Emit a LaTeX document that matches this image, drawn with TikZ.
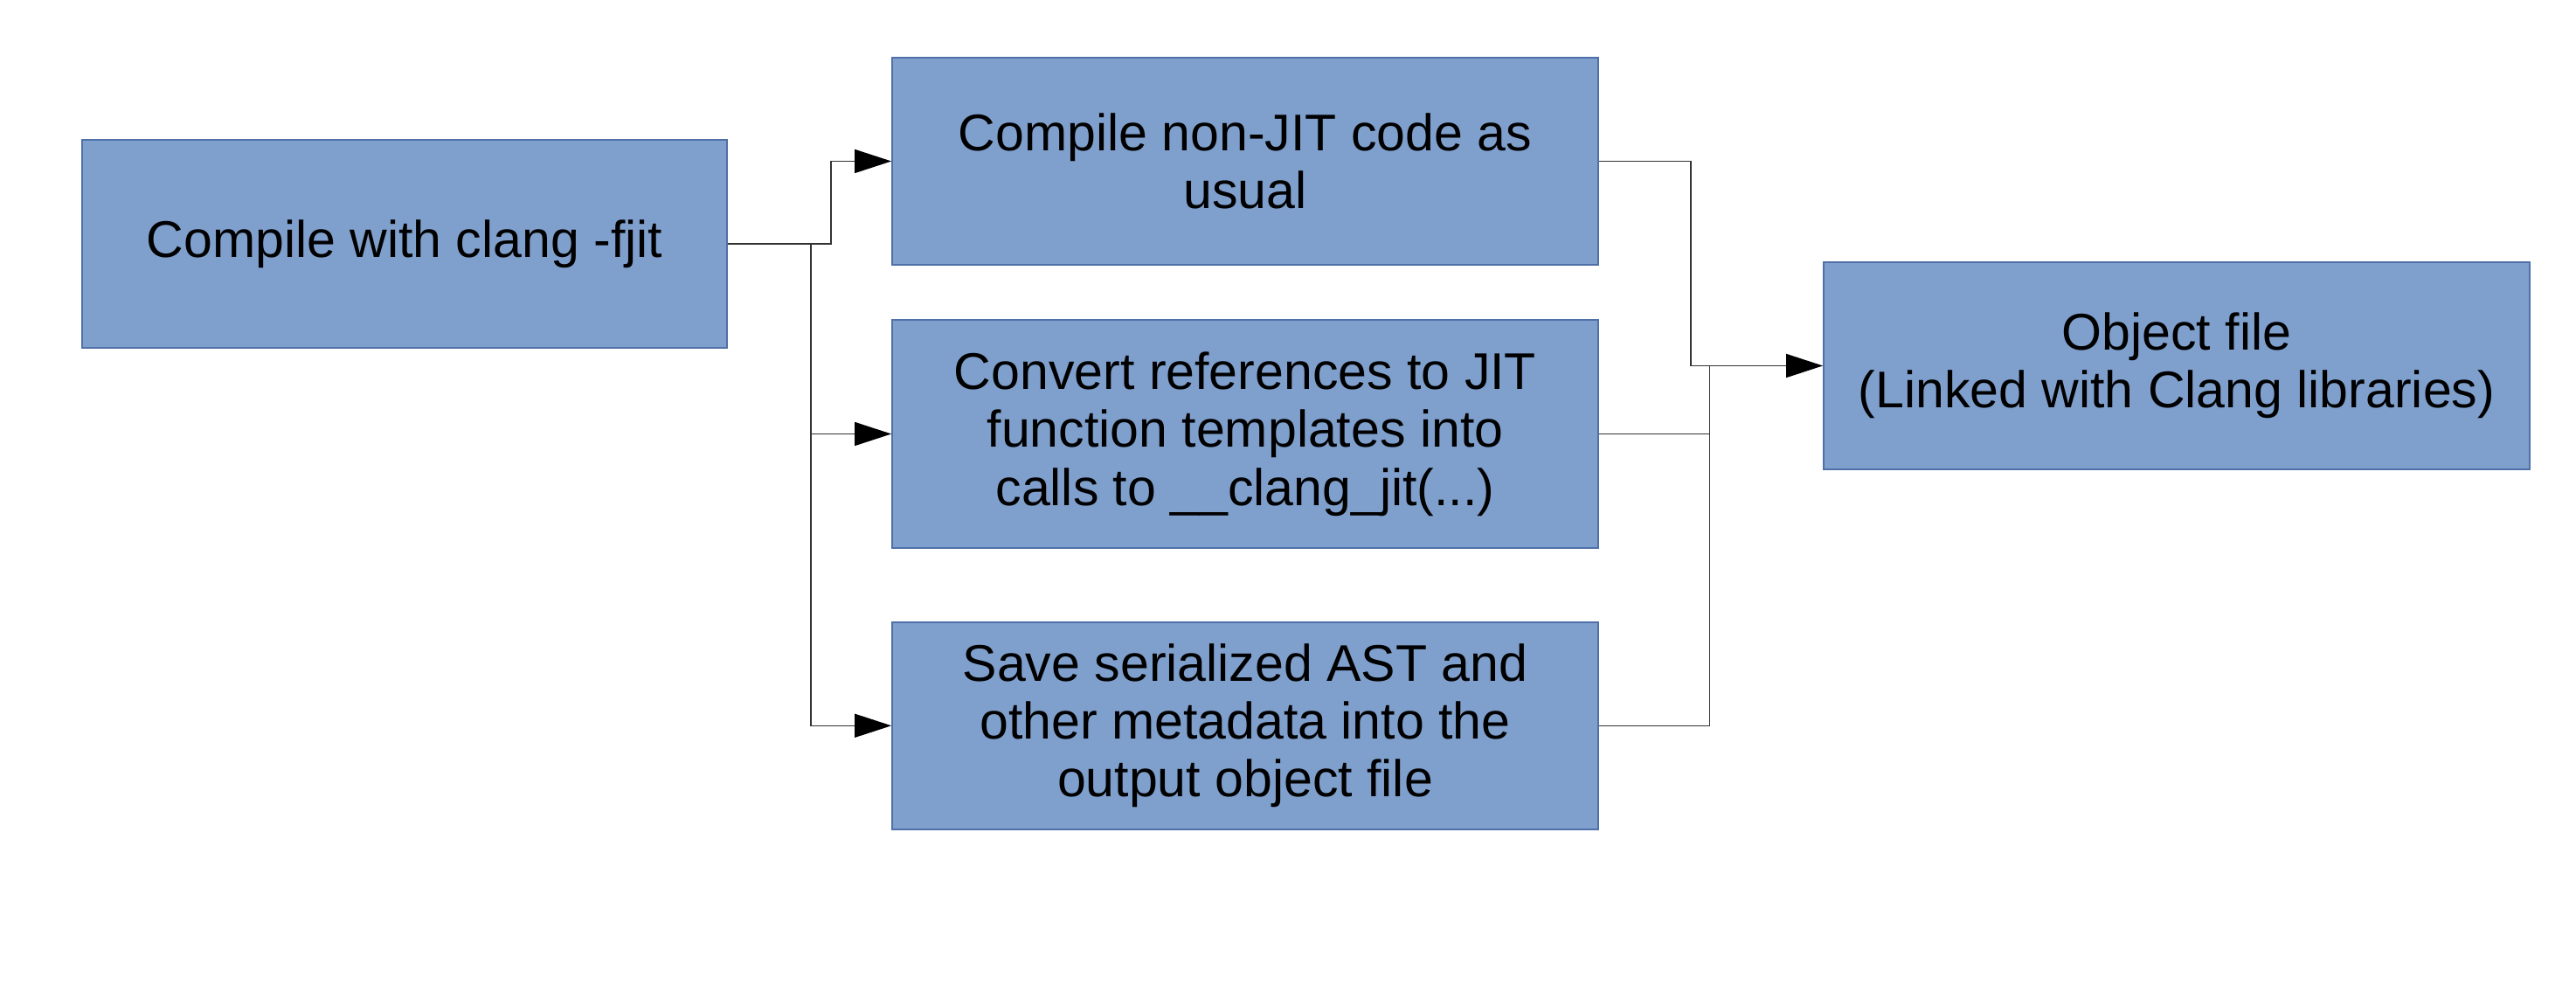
\documentclass[tikz,border=0pt]{standalone}
\usepackage{fontspec}
\setmainfont{Liberation Sans}
\usepackage{tikz}
\usetikzlibrary{arrows.meta, calc}
\definecolor{boxblue}{RGB}{127,159,204}
\definecolor{boxedge}{RGB}{79,112,168}
\tikzset{
    stage/.style={draw=boxedge, fill=boxblue, line width=0.5pt, minimum width=8.08cm, minimum height=2.37cm, inner sep=0pt, align=center, font=\fontsize{16.8pt}{18.9pt}\selectfont},
    flow/.style={line width=0.4pt, draw=black!80},
}

\begin{document}
\begin{tikzpicture}[>={Triangle[length=0.42cm, width=0.27cm, color=black]}]
    \useasboundingbox (0,0) rectangle (29.48,11.26);

    % Stages
    \node[stage, minimum width=7.38cm, minimum height=2.38cm] (compile) at (4.63,8.47) {Compile with clang -fjit};
    \node[stage] (nonjit) at (14.25,9.415) {Compile non-JIT code as\\usual};
    \node[stage, minimum height=2.61cm] (convert) at (14.25,6.295) {Convert references to JIT\\function templates into\\calls to \_\_clang\_jit(...)};
    \node[stage] (save) at (14.25,2.957) {Save serialized AST and\\other metadata into the\\output object file};
    \node[stage] (object) at (24.91,7.075) {Object file\\(Linked with Clang libraries)};

    % Fan out
    \draw[flow, ->] (compile.east) -- ++(1.18,0) |- (nonjit.west);
    \draw[flow] (compile.east) -- ++(0.95,0) coordinate (split);
    \draw[flow, ->] (split) |- (convert.west);
    \draw[flow, ->] (split) |- (save.west);

    % Merge
    \coordinate (merge) at ($(object.west)+(-1.295,0)$);
    \draw[flow, ->] (nonjit.east) -- ++(1.05,0) |- (object.west);
    \draw[flow] (convert.east) -| (merge);
    \draw[flow] (save.east) -| (merge);
\end{tikzpicture}
\end{document}
